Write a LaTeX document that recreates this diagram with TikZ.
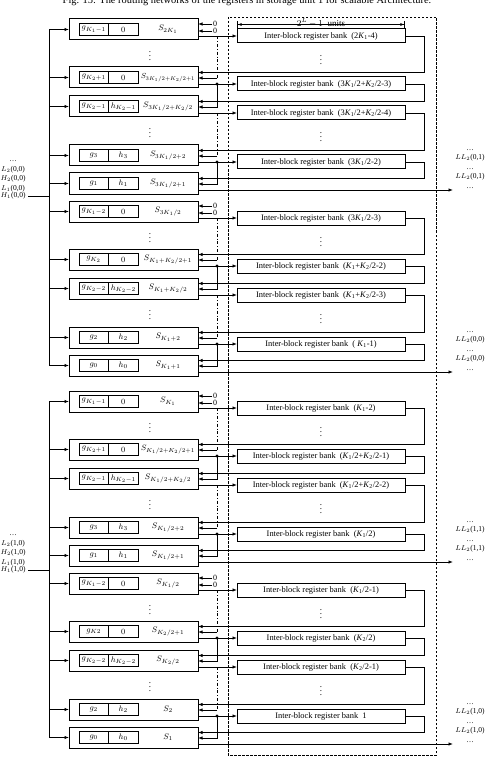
\documentclass[tikz,border=0pt]{standalone}
\usepackage{amsmath}
\usepackage{graphicx}
\usepackage{fontspec}
\setmainfont{Liberation Serif}
\usepackage{tikz}
\usetikzlibrary{arrows.meta,positioning,calc}
\newcommand\KA{\textit{K}\textsubscript{1}}
\newcommand\KB{\textit{K}\textsubscript{2}}
\newcommand\ib{Inter-block register bank\ \ }
\newsavebox\slbox
\newcommand\fitS[1]{\sbox\slbox{#1}\ifdim\wd\slbox>54pt\resizebox{54pt}{!}{#1}\else\usebox\slbox\fi}
\tikzset{
  % register block, its two cells and the bank to its right
  sblk/.style = {rectangle, draw, line width=1pt, minimum width=129pt,
                 minimum height=21pt, inner sep=0pt, outer sep=0pt},
  cell/.style = {rectangle, draw, line width=1pt, minimum width=29.5pt,
                 minimum height=12.5pt, inner sep=0pt, outer sep=0pt,
                 font=\fontsize{8}{9}\selectfont},
  slbl/.style = {inner sep=0pt, font=\fontsize{8.4}{9}\selectfont},
  bank/.style = {rectangle, draw, line width=1pt, minimum width=168pt,
                 minimum height=14pt, inner sep=0pt, outer sep=0pt,
                 font=\fontsize{8.4}{9}\selectfont},
  ln/.style   = {line width=0.8pt},
  dd/.style   = {line width=0.8pt, dash dot},
  arr/.style  = {-{Latex[length=4.5pt,width=3.4pt]}, line width=0.8pt},
  jdot/.style = {circle, fill, inner sep=1.2pt},
  vd/.style   = {inner sep=0pt, font=\fontsize{9}{10}\selectfont},
  zlbl/.style = {inner sep=0.5pt, font=\fontsize{8}{8}\selectfont},
  tag/.style  = {inner sep=0.3pt, align=center, font=\fontsize{7.5}{9.5}\selectfont},
}

\begin{document}
\begin{tikzpicture}[x=1pt,y=-1pt]
\useasboundingbox (0,0) rectangle (491,762);
\node[anchor=base, font=\fontsize{10.4}{12}\selectfont] (ttl) at (247,4)
  {Fig. 15: The routing networks of the registers in storage unit 1 for scalable Architecture.};
% bank frame
\draw[line width=0.8pt, dash pattern=on 2.5pt off 1.5pt] (228,17) rectangle (436,755);
\foreach \g/\k/\y/\ga/\hb/\sl/\bk in {
  1/1/19/{g_{K_1-1}}/0/{S_{2K_1}}/{\ib(2\KA-4)},
  1/2/67/{g_{K_2+1}}/0/{S_{3K_1/2+K_2/2+1}}/{\ib(3\KA/2+\KB/2-3)},
  1/3/96/{g_{K_2-1}}/{h_{K_2-1}}/{S_{3K_1/2+K_2/2}}/{\ib(3\KA/2+\KB/2-4)},
  1/4/145/{g_3}/{h_3}/{S_{3K_1/2+2}}/{\ib(3\KA/2-2)},
  1/5/173/{g_1}/{h_1}/{S_{3K_1/2+1}}/{(0,1)},
  2/1/201/{g_{K_1-2}}/0/{S_{3K_1/2}}/{\ib(3\KA/2-3)},
  2/2/249/{g_{K_2}}/0/{S_{K_1+K_2/2+1}}/{\ib(\KA+\KB/2-2)},
  2/3/278/{g_{K_2-2}}/{h_{K_2-2}}/{S_{K_1+K_2/2}}/{\ib(\KA+\KB/2-3)},
  2/4/327/{g_2}/{h_2}/{S_{K_1+2}}/{\ib( \KA-1)},
  2/5/355/{g_0}/{h_0}/{S_{K_1+1}}/{(0,0)},
  3/1/391/{g_{K_1-1}}/0/{S_{K_1}}/{\ib(\KA-2)},
  3/2/439/{g_{K_2+1}}/0/{S_{K_1/2+K_2/2+1}}/{\ib(\KA/2+\KB/2-1)},
  3/3/468/{g_{K_2-1}}/{h_{K_2-1}}/{S_{K_1/2+K_2/2}}/{\ib(\KA/2+\KB/2-2)},
  3/4/517/{g_3}/{h_3}/{S_{K_1/2+2}}/{\ib(\KA/2)},
  3/5/545/{g_1}/{h_1}/{S_{K_1/2+1}}/{(1,1)},
  4/1/573/{g_{K_1-2}}/0/{S_{K_1/2}}/{\ib(\KA/2-1)},
  4/2/621/{g_{K2}}/0/{S_{K_2/2+1}}/{\ib(\KB/2)},
  4/3/650/{g_{K_2-2}}/{h_{K_2-2}}/{S_{K_2/2}}/{\ib(\KB/2-1)},
  4/4/699/{g_2}/{h_2}/{S_2}/{\ib 1},
  4/5/727/{g_0}/{h_0}/{S_1}/{(1,0)}}{
  \node[sblk] (s\g\k) at (133.5,\y+10.5) {};
  \node[cell, anchor=west] (ga\g\k) at ([xshift=10pt]s\g\k.west) {$\ga$};
  \node[cell, anchor=west] (hb\g\k) at (ga\g\k.east) {$\hb$};
  \node[slbl] (sl\g\k) at ([xshift=34.5pt]s\g\k.center) {\fitS{$\sl$}};
  \draw[arr] ([xshift=-20pt]s\g\k.west) -- (s\g\k.west);
  \coordinate (o\g\k) at ([xshift=19pt,yshift=-6.5pt]s\g\k.east);
  \coordinate (l\g\k) at ([yshift=-0.5pt]s\g\k.east);
  \ifnum\k=1
    \node[zlbl] (za\g) at ([xshift=17pt,yshift=5.5pt]s\g\k.east) {0};
    \node[zlbl] (zb\g) at ([xshift=17pt,yshift=-1.5pt]s\g\k.east) {0};
    \draw[arr] (za\g.west) -- (za\g.west -| s\g\k.east);
    \draw[arr] (zb\g.west) -- (zb\g.west -| s\g\k.east);
  \fi
  \ifnum\k<5
    \node[bank] (b\g\k) at (321,\y+17) {\bk};
    \draw[arr] (s\g\k.east |- o\g\k) -- (b\g\k.west);
    \ifodd\k
      \node[vd] (dl\g\k) at ([xshift=16.5pt,yshift=-24pt]s\g\k.center) {$\vdots$};
      \node[vd] (dr\g\k) at ([yshift=-21pt]b\g\k.center) {$\vdots$};
    \else
      \node[jdot] (j\g\k) at (o\g\k) {};
    \fi
  \else
    \coordinate (e\g) at (453,\y+17);
    \draw[arr] (s\g\k.east |- o\g\k) -- (e\g);
    \node[tag, anchor=south] (ll\g) at ([xshift=17pt,yshift=1pt]e\g)
      {\ldots\\$LL_2$\bk\\\ldots\\$LL_2$\bk\\\ldots};
  \fi
  \ifnum\k>1
    \pgfmathtruncatemacro\p{\k-1}
    \draw[arr] (b\g\p.east) -- ++(19,0) |- ([yshift=5pt]s\g\k.east);
    \ifodd\p
      \draw[dd] (o\g\p) -- (o\g\p |- l\g\k);
      \draw[arr] (o\g\p |- l\g\k) -- (l\g\k);
    \else
      \draw[arr] (o\g\p) |- (l\g\k);
    \fi
  \fi
}
% input buses
\coordinate (busa) at ([xshift=-20pt]s11.west);
\coordinate (busb) at ([xshift=-20pt]s31.west);
\draw[ln] (busa) -- ([xshift=-20pt]s25.west);
\draw[ln] (busb) -- ([xshift=-20pt]s45.west);
\node[tag, anchor=east] (ha) at (26,196) {$H_1$(0,0)};
\node[tag, anchor=south] (la) at (ha.north) {\ldots\\$L_2$(0,0)\\$H_2$(0,0)\\$L_1$(0,0)};
\draw[ln] ([xshift=2pt]ha.east) -- (ha.east -| busa);
\node[tag, anchor=east] (hb) at (26,570) {$H_1$(1,0)};
\node[tag, anchor=south] (lb) at (hb.north) {\ldots\\$L_2$(1,0)\\$H_2$(1,0)\\$L_1$(1,0)};
\draw[ln] ([xshift=2pt]hb.east) -- (hb.east -| busb);
% width of a bank
\draw[{Bar[width=7pt]Latex[length=4pt,width=3pt]}-{Latex[length=4pt,width=3pt]Bar[width=7pt]}, line width=0.7pt]
  ([yshift=4.5pt]b11.north west) -- ([yshift=4.5pt]b11.north east)
  node[midway, anchor=base, yshift=-2pt, font=\fontsize{9}{10}\selectfont] (un) {$2^{L}-1$\ \ units};
\end{tikzpicture}
\end{document}
